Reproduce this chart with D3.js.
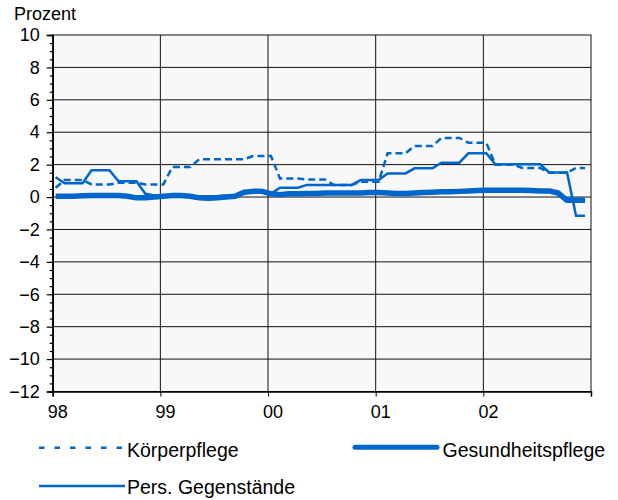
<!DOCTYPE html>
<html>
<head>
<meta charset="utf-8">
<script src="https://cdn.jsdelivr.net/npm/d3@7"></script>
<style>
  body { margin: 0; background: #fff; }
  text { font-family: "Liberation Sans", Arial, sans-serif; fill: #000; }
</style>
</head>
<body>
<div id="chart"></div>
<script>
// monthly values, Jan 1998 - Dec 2002
const yearLabels = ["98", "99", "00", "01", "02"];
const koerperpflege = [
  0.57, 1.05, 1.05, 1.05, 0.78, 0.78, 0.78, 0.88, 0.88, 0.88, 0.78, 0.78,
  0.78, 1.85, 1.85, 1.85, 2.33, 2.33, 2.33, 2.33, 2.33, 2.33, 2.53, 2.53,
  2.53, 1.15, 1.15, 1.15, 1.08, 1.08, 1.08, 0.75, 0.75, 0.75, 0.95, 0.95,
  0.95, 2.7, 2.7, 2.7, 3.15, 3.15, 3.15, 3.65, 3.65, 3.65, 3.35, 3.35,
  3.35, 2.0, 2.0, 2.0, 1.8, 1.8, 1.8, 1.5, 1.5, 1.5, 1.8, 1.8
];
const gesundheitspflege = [
  0.05, 0.05, 0.05, 0.08, 0.1, 0.1, 0.1, 0.1, 0.05, -0.05, -0.05, 0.0,
  0.05, 0.1, 0.1, 0.05, -0.05, -0.08, -0.05, 0.0, 0.05, 0.3, 0.35, 0.35,
  0.2, 0.15, 0.2, 0.2, 0.22, 0.22, 0.25, 0.25, 0.25, 0.25, 0.25, 0.28,
  0.28, 0.25, 0.22, 0.22, 0.25, 0.28, 0.3, 0.33, 0.33, 0.35, 0.38, 0.4,
  0.42, 0.42, 0.42, 0.42, 0.42, 0.4, 0.38, 0.38, 0.25, -0.2, -0.2, -0.2
];
const persGegenstaende = [
  1.22, 0.85, 0.85, 0.85, 1.65, 1.65, 1.65, 0.97, 0.97, 0.97, 0.2, 0.1,
  0.1, 0.1, 0.05, 0.0, 0.0, 0.05, 0.05, 0.1, 0.1, 0.35, 0.35, 0.35,
  0.2, 0.57, 0.57, 0.57, 0.75, 0.75, 0.75, 0.75, 0.75, 0.75, 1.05, 1.05,
  1.05, 1.46, 1.46, 1.46, 1.77, 1.77, 1.77, 2.12, 2.12, 2.12, 2.7, 2.7,
  2.7, 2.02, 2.02, 2.02, 2.02, 2.02, 2.02, 1.52, 1.52, 1.52, -1.15, -1.15
];

const blue = "#0066cc";
const W = 618, H = 500;
const plotLeft = 52.7, plotRight = 591, plotTop = 35, plotBottom = 391.5;

const svg = d3.select("#chart").append("svg")
  .attr("width", W).attr("height", H);

const x = d3.scaleLinear().domain([0, 60]).range([plotLeft, plotRight]);
const y = d3.scaleLinear().domain([-12, 10]).range([plotBottom, plotTop]);

// plot background
svg.append("rect")
  .attr("x", plotLeft).attr("y", plotTop)
  .attr("width", plotRight - plotLeft).attr("height", plotBottom - plotTop)
  .attr("fill", "#f8f8f8");

// horizontal grid
svg.append("g")
  .selectAll("line")
  .data(d3.range(-10, 10, 2))
  .join("line")
  .attr("x1", plotLeft).attr("x2", plotRight)
  .attr("y1", (d) => y(d)).attr("y2", (d) => y(d))
  .attr("stroke", "#111").attr("stroke-width", 1);

// vertical grid
svg.append("g")
  .selectAll("line")
  .data([12, 24, 36, 48])
  .join("line")
  .attr("x1", (d) => x(d)).attr("x2", (d) => x(d))
  .attr("y1", plotTop).attr("y2", plotBottom)
  .attr("stroke", "#111").attr("stroke-width", 1);

// frame
svg.append("rect")
  .attr("x", plotLeft).attr("y", plotTop)
  .attr("width", plotRight - plotLeft).attr("height", plotBottom - plotTop)
  .attr("fill", "none").attr("stroke", "#111").attr("stroke-width", 1);

// y axis
const yAxis = svg.append("g").attr("transform", `translate(${plotLeft},0)`);
yAxis.call(d3.axisLeft(y).tickValues(d3.range(-12, 10.5, 2)).tickSize(6).tickPadding(7).tickFormat(d3.format("d")));
yAxis.append("g").call(d3.axisLeft(y).tickValues(d3.range(-11.5, 10, 0.5).filter((v) => v % 2 !== 0)).tickSize(3).tickFormat(""));
yAxis.selectAll("path.domain").attr("stroke", "#000").attr("stroke-width", 1.5);
yAxis.selectAll(".tick line").attr("stroke", "#000").attr("stroke-width", 1.2);
yAxis.selectAll(".tick text").attr("font-size", 18).attr("font-family", "Liberation Sans, Arial, sans-serif");

// x axis
const xAxis = svg.append("g").attr("transform", `translate(0,${plotBottom})`);
xAxis.call(d3.axisBottom(x).tickValues([0, 12, 24, 36, 48, 60]).tickSize(5).tickPadding(9)
  .tickFormat((d, i) => yearLabels[i] || ""));
xAxis.selectAll("path.domain").attr("stroke", "#000").attr("stroke-width", 1.5);
xAxis.selectAll(".tick line").attr("stroke", "#000");
xAxis.selectAll(".tick text").attr("font-size", 18).attr("dx", 4.6)
  .attr("font-family", "Liberation Sans, Arial, sans-serif");

svg.append("text")
  .attr("x", 14).attr("y", 20)
  .attr("font-size", 18)
  .text("Prozent");

// lines
const line = d3.line()
  .x((d, i) => x(i + 0.33))
  .y((d) => y(d));

svg.append("path").datum(gesundheitspflege)
  .attr("d", line).attr("fill", "none")
  .attr("stroke", blue).attr("stroke-width", 5.5).attr("stroke-linejoin", "round");

svg.append("path").datum(persGegenstaende)
  .attr("d", line).attr("fill", "none")
  .attr("stroke", blue).attr("stroke-width", 2.5);

svg.append("path").datum(koerperpflege)
  .attr("d", line).attr("fill", "none")
  .attr("stroke", blue).attr("stroke-width", 2.5).attr("stroke-dasharray", "7,4");

// legend
const legend = [
  { name: "Körperpflege", lx: 39, ly: 447.7, w: 2.5, dash: "5.5,10", tx: 127, ty: 456.7 },
  { name: "Gesundheitspflege", lx: 355, ly: 447.3, w: 5, dash: null, tx: 442.5, ty: 456.5 },
  { name: "Pers. Gegenstände", lx: 39, ly: 486, w: 2.5, dash: null, tx: 127, ty: 494 }
];
const lg = svg.append("g").selectAll("g").data(legend).join("g");
lg.append("line")
  .attr("x1", (d) => d.lx).attr("x2", (d) => d.lx + (d.w > 3 ? 82 : 86))
  .attr("y1", (d) => d.ly).attr("y2", (d) => d.ly)
  .attr("stroke", blue)
  .attr("stroke-width", (d) => d.w)
  .attr("stroke-linecap", (d) => (d.w > 3 ? "round" : "butt"))
  .attr("stroke-dasharray", (d) => d.dash);
lg.append("text")
  .attr("x", (d) => d.tx).attr("y", (d) => d.ty)
  .attr("font-size", 19.5)
  .text((d) => d.name);
</script>
</body>
</html>
